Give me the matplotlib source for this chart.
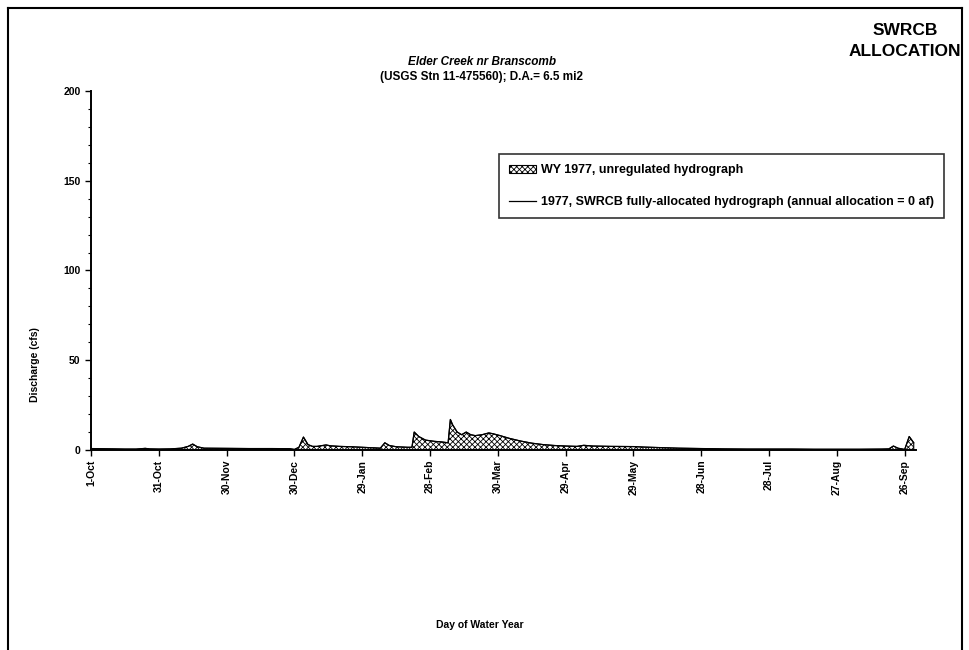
import numpy as np
import matplotlib
matplotlib.use('Agg')
import matplotlib.pyplot as plt
from matplotlib.lines import Line2D

plt.rcParams['font.family'] = ['Liberation Sans', 'DejaVu Sans']
plt.rcParams['font.weight'] = 'bold'
plt.rcParams['hatch.linewidth'] = 0.6

# --- datos (dia del ano hidrologico, caudal cfs) ---
dias = [0, 5, 10, 15, 20, 24, 26, 30, 35, 40, 43, 45, 47, 50, 60, 70, 80, 88,
        90, 92, 94, 96, 98, 100, 104, 106, 110, 115, 120, 125, 128, 130, 132,
        135, 140, 142, 143, 145, 148, 152, 155, 158, 159, 160, 162, 164, 166,
        168, 170, 173, 176, 178, 181, 185, 190, 195, 200, 205, 210, 215, 218,
        222, 230, 240, 245, 250, 255, 260, 270, 280, 290, 300, 310, 320, 330,
        340, 350, 353, 355, 357, 360, 362, 364]
caudal = [0.8, 0.7, 0.6, 0.5, 0.5, 0.9, 0.6, 0.5, 0.6, 1.0, 2.0, 3.3, 1.8, 1.0,
          0.9, 0.8, 0.8, 0.7, 0.3, 1.5, 7.2, 3.0, 2.0, 2.0, 2.8, 2.3, 2.0, 1.8,
          1.5, 1.2, 1.0, 4.0, 2.5, 1.8, 1.5, 1.5, 10.0, 7.5, 5.5, 4.8, 4.5, 4.0,
          17.0, 14.0, 10.0, 8.5, 10.0, 8.5, 8.0, 8.5, 9.5, 9.0, 8.0, 6.5, 5.0,
          3.8, 3.0, 2.5, 2.2, 2.0, 2.6, 2.2, 2.0, 1.9, 1.6, 1.4, 1.2, 1.0, 0.8,
          0.6, 0.5, 0.5, 0.5, 0.4, 0.4, 0.4, 0.5, 0.6, 2.2, 1.0, 0.3, 7.5, 4.0]
# asignacion anual = 0 af -> hidrograma asignado igual al no regulado
asignado = list(caudal)

tick_dias = [0, 30, 60, 90, 120, 150, 180, 210, 240, 270, 300, 330, 360]
tick_labels = ['1-Oct', '31-Oct', '30-Nov', '30-Dec', '29-Jan', '28-Feb',
               '30-Mar', '29-Apr', '29-May', '28-Jun', '28-Jul', '27-Aug',
               '26-Sep']

fig = plt.figure(figsize=(9.69, 6.5), dpi=100)
ax = fig.add_axes([0.0939, 0.3077, 0.8514, 0.5523])

ax.fill_between(dias, 0, caudal, facecolor='white', edgecolor='black',
                hatch='xxxxxx', linewidth=0.8,
                label='WY 1977, unregulated hydrograph')
ax.plot(dias, asignado, color='black', linewidth=0.9,
        label='1977, SWRCB fully-allocated hydrograph (annual allocation = 0 af)')

ax.set_xlim(0, 365)
ax.set_ylim(0, 200)
ax.set_yticks([0, 50, 100, 150, 200])
ax.set_yticks(np.arange(0, 201, 10), minor=True)
ax.set_xticks(tick_dias)
ax.set_xticklabels(tick_labels, rotation=90, fontsize=7.5, fontweight='bold')
ax.tick_params(axis='y', labelsize=7.5, direction='out', length=4, width=1)
ax.tick_params(axis='y', which='minor', length=2, width=0.8)
ax.tick_params(axis='x', direction='out', length=4, width=1, pad=3)
for s in ['top', 'right']:
    ax.spines[s].set_visible(False)
ax.spines['left'].set_linewidth(1.4)
ax.spines['bottom'].set_linewidth(1.4)

ax.set_ylabel('Discharge (cfs)', fontsize=7.5, fontweight='bold')
ax.yaxis.set_label_coords(-0.062, 0.237)
ax.set_xlabel('Day of Water Year', fontsize=7.5, fontweight='bold')
ax.xaxis.set_label_coords(0.4715, -0.474)

fig.text(0.497, 0.905, 'Elder Creek nr Branscomb', ha='center', va='center',
         fontsize=8.5, fontweight='bold', style='italic')
fig.text(0.497, 0.882, '(USGS Stn 11-475560); D.A.= 6.5 mi2', ha='center',
         va='center', fontsize=8.5, fontweight='bold')
fig.text(0.934, 0.937, 'SWRCB\nALLOCATION', ha='center', va='center',
         fontsize=12.5, fontweight='bold', linespacing=1.5)

leg = ax.legend(loc='upper right', bbox_to_anchor=(0.981, 0.772),
                bbox_transform=fig.transFigure, fontsize=9,
                frameon=True, fancybox=False, edgecolor='black',
                labelspacing=1.6, handlelength=2.2, handletextpad=0.4,
                borderpad=0.8)
leg.get_frame().set_linewidth(1.2)

# marco exterior de la figura
fig.add_artist(Line2D([0.008, 0.008], [0.0, 0.988], color='black', lw=1.5))
fig.add_artist(Line2D([0.993, 0.993], [0.0, 0.988], color='black', lw=1.5))
fig.add_artist(Line2D([0.008, 0.993], [0.988, 0.988], color='black', lw=1.5))

plt.savefig('out.png', dpi=100, facecolor='white')
